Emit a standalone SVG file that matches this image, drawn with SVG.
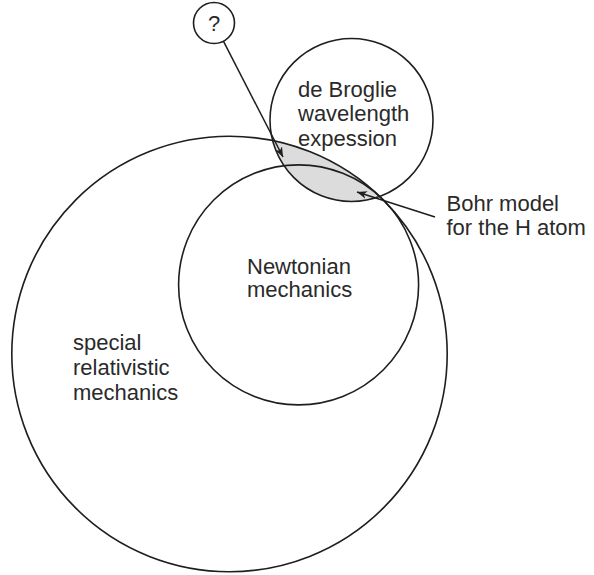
<svg xmlns="http://www.w3.org/2000/svg" width="594" height="575" viewBox="0 0 594 575">
  <style>
    .ring { fill: none; stroke: #1e1e1e; stroke-width: 1.6; }
    .lbl { font-family: "Liberation Sans", Arial, sans-serif; font-size: 22px; fill: #2a2a2a; }
    .conn { stroke: #1e1e1e; stroke-width: 1.5; fill: none; marker-end: url(#ah); }
  </style>
  <defs>
    <marker id="ah" viewBox="0 0 10 8" refX="10" refY="4" markerWidth="10" markerHeight="8" markerUnits="userSpaceOnUse" orient="auto">
      <path d="M0,0 L10,4 L0,8 L3,4 z" fill="#1e1e1e"/>
    </marker>
    <clipPath id="bigClip">
      <circle cx="229.5" cy="354" r="217.7"/>
    </clipPath>
  </defs>
  <rect width="594" height="575" fill="#ffffff"/>

  <g id="overlap-region">
    <circle cx="351.5" cy="120" r="81.5" fill="#dcdcdc" clip-path="url(#bigClip)"/>
  </g>

  <g id="node-special-relativistic">
    <circle class="ring" cx="229.5" cy="354" r="217.7"/>
    <text class="lbl" x="73" y="350">special</text>
    <text class="lbl" x="73" y="375">relativistic</text>
    <text class="lbl" x="73" y="399.5">mechanics</text>
  </g>

  <g id="node-newtonian">
    <circle class="ring" cx="298.6" cy="284.9" r="120"/>
    <text class="lbl" x="247" y="273.5">Newtonian</text>
    <text class="lbl" x="247" y="297">mechanics</text>
  </g>

  <g id="node-de-broglie">
    <circle class="ring" cx="351.5" cy="120" r="81.5"/>
    <text class="lbl" x="298" y="97.3">de Broglie</text>
    <text class="lbl" x="298" y="121.3">wavelength</text>
    <text class="lbl" x="298" y="145.5">expession</text>
  </g>

  <g id="node-question">
    <circle class="ring" cx="214" cy="23" r="20.5"/>
    <text class="lbl" x="214" y="31" text-anchor="middle">?</text>
  </g>

  <g id="label-bohr">
    <text class="lbl" x="446.5" y="210.7">Bohr model</text>
    <text class="lbl" x="446.5" y="235">for the H atom</text>
  </g>

  <g id="connectors">
    <line class="conn" x1="223.4" y1="41.2" x2="283" y2="157"/>
    <line class="conn" x1="435" y1="217" x2="357" y2="192"/>
  </g>
</svg>
